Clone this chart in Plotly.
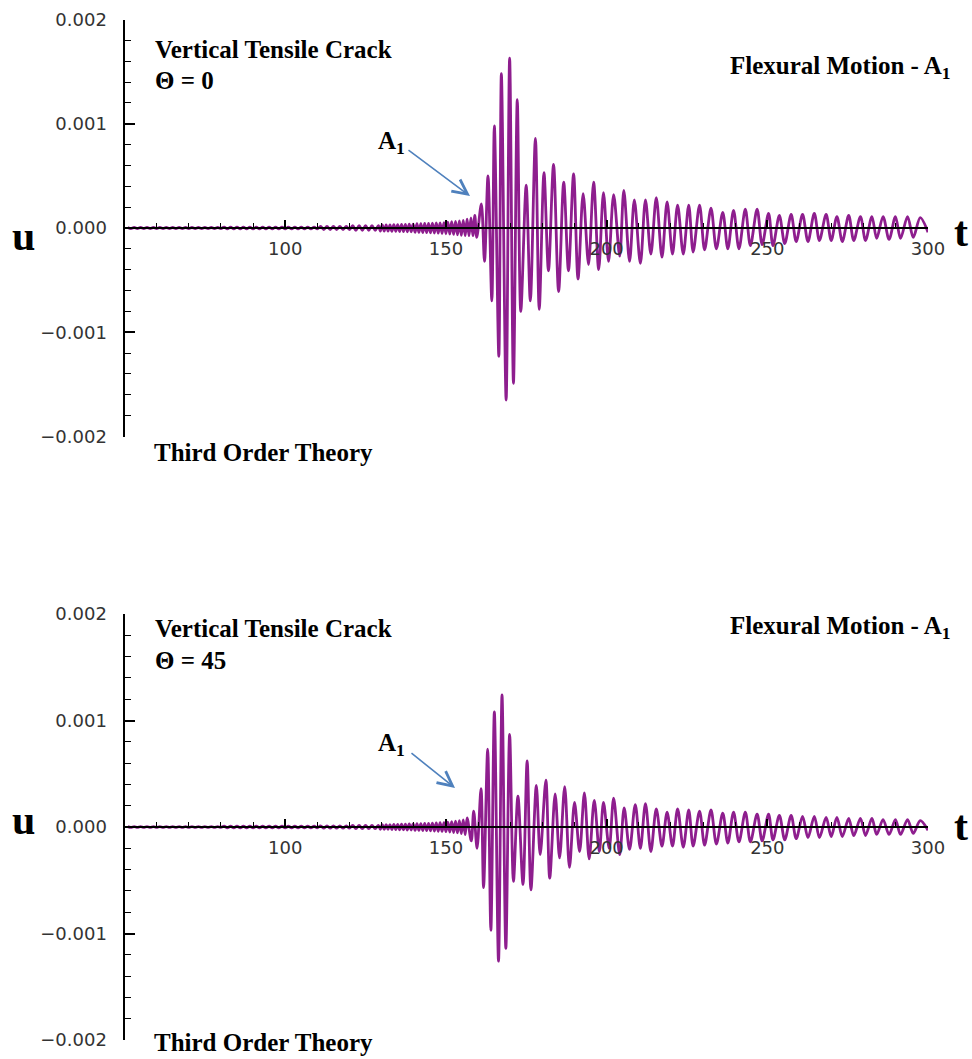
import plotly.graph_objects as go

# ---------------- data (u values are in micro-units, 1e-6) ----------------
U = 1e-6

# slowly growing precursor (read as envelope of the fine oscillation)
t_pre_a = [51, 52, 53, 54, 55, 56, 57, 58, 59, 60, 61, 62, 63, 64, 65, 66, 67, 68, 69, 70,
           71, 72, 73, 74, 75, 76, 77, 78, 79, 80, 81, 82, 83, 84, 85, 86, 87, 88, 89, 90,
           91, 92, 93, 94, 95, 96, 97, 98, 99, 100, 101, 102, 103, 104, 105, 106, 107, 108, 109, 110,
           111, 112, 113, 114, 115, 116, 117, 118, 119, 120, 121, 122, 123, 124, 125, 126, 127, 128, 129]
t_pre_b = [129.6, 130.2, 130.8, 131.4, 132.0, 132.6, 133.2, 133.8, 134.4, 135.0, 135.6, 136.2,
           136.8, 137.4, 138.0, 138.6, 139.2, 139.8, 140.4, 141.0, 141.6, 142.2, 142.8, 143.4,
           144.0, 144.6, 145.2, 145.8, 146.4, 147.0, 147.6, 148.2, 148.8, 149.4, 150.0, 150.6,
           151.2, 151.8, 152.4, 153.0, 153.6, 154.2, 154.8, 155.4, 156.0, 156.6, 157.2, 157.8,
           158.4, 159.0, 159.6]

u_top_pre_a = [5, -5, 5, -5, 5, -5, 5, -5, 5, -5, 5, -5, 5, -5, 5, -5, 5, -5, 5, -5,
               5, -5, 5, -5, 5, -5, 5, -5, 5, -5, 9, -9, 9, -9, 9, -9, 9, -9, 9, -9,
               9, -9, 9, -9, 9, -9, 9, -9, 9, -9, 9, -9, 9, -9, 9, -9, 9, -9, 9, -9,
               15, -15, 15, -15, 15, -15, 15, -15, 15, -15, 22, -22, 22, -22, 22, -22, 22, -22, 22]
u_top_pre_b = [-30, 30, -30, 30, -30, 30, -32, 32, -32, 32, -34, 34, -34, 34, -36, 36, -36, 36,
               -42, 42, -42, 42, -44, 44, -44, 44, -46, 46, -48, 48, -50, 50, -52, 52,
               -55, 56, -58, 60, -62, 64, -66, 68, -70, 72, -72, 84, -74, 98, -74, 120, -90]

u_bot_pre_a = [4, -4, 4, -4, 4, -4, 4, -4, 4, -4, 4, -4, 4, -4, 4, -4, 4, -4, 4, -4,
               4, -4, 4, -4, 4, -4, 4, -4, 4, -4, 7, -7, 7, -7, 7, -7, 7, -7, 7, -7,
               7, -7, 7, -7, 7, -7, 7, -7, 7, -7, 7, -7, 7, -7, 7, -7, 7, -7, 7, -7,
               11, -11, 11, -11, 11, -11, 11, -11, 11, -11, 16, -16, 16, -16, 16, -16, 16, -16, 16]
u_bot_pre_b = [-22, 22, -22, 22, -22, 22, -24, 24, -24, 24, -26, 26, -26, 26, -28, 28, -28, 28,
               -32, 32, -32, 32, -34, 34, -34, 34, -36, 36, -38, 38, -40, 40, -42, 42,
               -44, 46, -48, 50, -52, 54, -56, 60, -62, 66, -72, 85]

# Theta = 0 : maxima and minima of the A1 wave train
t_top_max = [161.03, 163.1, 165.08, 167.26, 169.83, 172.21, 174.98, 177.85, 180.52, 183.49,
             186.66, 189.73, 192.7, 195.96, 199.03, 202.19, 205.36, 208.63, 212.09, 215.46,
             218.82, 222.09, 225.55, 228.92, 232.48, 236.14, 239.5, 243.16, 246.83, 250.39,
             253.75, 257.41, 260.97, 264.63, 268.3, 271.66, 275.32, 278.98, 282.55, 286.01,
             289.87, 293.63, 297.59]
u_top_max = [230, 500, 980, 1480, 1630, 1230, 410, 860, 530, 610,
             440, 520, 330, 440, 340, 320, 360, 270, 270, 290,
             250, 220, 220, 220, 190, 150, 170, 180, 180, 140,
             120, 130, 130, 140, 130, 110, 120, 110, 110, 110,
             110, 110, 100]
t_top_min = [162.01, 164.29, 166.47, 168.74, 171.02, 173.3, 176.27, 179.04, 181.91, 185.07,
             188.14, 191.11, 194.38, 197.54, 200.61, 204.08, 207.14, 210.51, 213.77, 217.23,
             220.5, 223.86, 226.93, 230.49, 234.16, 237.72, 241.18, 244.74, 248.4, 251.77,
             255.43, 258.99, 262.65, 266.21, 269.88, 273.34, 276.9, 280.56, 284.03, 287.89,
             291.45, 295.41, 300.0]
u_top_min = [-320, -700, -1230, -1650, -1490, -800, -700, -780, -410, -610,
             -410, -490, -350, -400, -320, -270, -320, -340, -250, -280,
             -250, -250, -230, -210, -200, -200, -200, -170, -160, -170,
             -150, -130, -130, -120, -120, -130, -120, -120, -100, -110,
             -100, -90, -40]

# Theta = 45
t_bot_max = [158.65, 160.93, 163.0, 165.08, 167.46, 169.83, 172.41, 175.28, 178.14, 181.11,
             183.99, 186.96, 190.02, 193.09, 196.16, 199.03, 202.19, 205.46, 208.92, 212.09,
             215.46, 218.82, 222.09, 225.55, 228.92, 232.48, 236.14, 239.5, 243.16, 246.83,
             250.39, 253.75, 257.41, 260.97, 264.63, 268.3, 271.66, 275.32, 278.98, 282.55,
             286.01, 289.87, 293.63, 297.59]
u_bot_max = [150, 360, 730, 1080, 1240, 870, 290, 620, 390, 440,
             310, 380, 230, 320, 250, 230, 270, 180, 210, 220,
             170, 140, 170, 160, 150, 160, 130, 140, 140, 120,
             120, 110, 110, 100, 100, 90, 90, 80, 80, 80,
             70, 70, 70, 60]
t_bot_min = [157.9, 159.7, 161.72, 163.99, 166.37, 168.65, 171.02, 173.99, 176.46, 179.33,
             182.3, 185.37, 188.44, 191.6, 194.57, 197.74, 200.81, 204.08, 207.14, 210.51,
             213.77, 217.23, 220.5, 223.86, 226.93, 230.49, 234.16, 237.72, 241.18, 244.74,
             248.4, 251.77, 255.43, 258.99, 262.65, 266.21, 269.88, 273.34, 276.9, 280.56,
             284.03, 287.89, 291.45, 295.41, 300.0]
u_bot_min = [-130, -200, -570, -970, -1260, -1140, -510, -540, -590, -260,
             -480, -290, -380, -230, -300, -230, -200, -260, -210, -200,
             -230, -180, -180, -190, -180, -170, -160, -150, -140, -140,
             -130, -120, -120, -110, -100, -100, -90, -90, -80, -80,
             -70, -70, -70, -60, -30]

x_tickvals = [100, 150, 200, 250, 300]
y_tickvals = [-0.002, -0.001, 0.0, 0.001, 0.002]
y_ticktext = ["\u22120.002", "\u22120.001", "0.000", "0.001", "0.002"]


def merge(*pairs):
    pts = []
    for ts, us in pairs:
        pts += list(zip(ts, us))
    pts.sort()
    return [p[0] for p in pts], [p[1] * U for p in pts]


t_top, u_top = merge((t_pre_a, u_top_pre_a), (t_pre_b, u_top_pre_b),
                     (t_top_max, u_top_max), (t_top_min, u_top_min))
t_bot, u_bot = merge((t_pre_a, u_bot_pre_a), (t_pre_b[:len(u_bot_pre_b)], u_bot_pre_b),
                     (t_bot_max, u_bot_max), (t_bot_min, u_bot_min))

# ---------------- figure ----------------
W, H = 972, 1059
PURPLE = "rgb(142,30,142)"


def fy(y):
    return 1 - y / H


fig = go.Figure()
fig.add_trace(go.Scatter(x=t_top, y=u_top, mode="lines", xaxis="x", yaxis="y",
                         line=dict(color=PURPLE, width=2.8, shape="spline", smoothing=0.9),
                         hoverinfo="skip", showlegend=False))
fig.add_trace(go.Scatter(x=t_bot, y=u_bot, mode="lines", xaxis="x2", yaxis="y2",
                         line=dict(color=PURPLE, width=2.8, shape="spline", smoothing=0.9),
                         hoverinfo="skip", showlegend=False))

xdom = [124.5 / W, 928.0 / W]
top_px = (19.5, 436.5)
bot_px = (614.0, 1040.0)

tickfont = dict(family="DejaVu Sans", size=18, color="#333333")


def xaxis_cfg(pos):
    return dict(domain=xdom, range=[50, 300], anchor="free", position=pos, automargin=False,
                showline=True, linecolor="black", linewidth=2,
                ticks="inside", ticklen=7, tickwidth=1.5, tickcolor="black",
                tickmode="array", tickvals=x_tickvals, tickfont=tickfont,
                ticklabelstandoff=4,
                minor=dict(tickmode="linear", tick0=50, dtick=10, ticks="inside",
                           ticklen=4, tickwidth=1.2, tickcolor="black"),
                showgrid=False, zeroline=False)


def yaxis_cfg(px_pair, anchor):
    return dict(domain=[fy(px_pair[1]), fy(px_pair[0])], range=[-0.002, 0.002], anchor=anchor,
                automargin=False,
                showline=True, linecolor="black", linewidth=2,
                ticks="inside", ticklen=10, tickwidth=1.5, tickcolor="black",
                tickmode="array", tickvals=y_tickvals, ticktext=y_ticktext, tickfont=tickfont,
                ticklabelstandoff=12,
                minor=dict(tickmode="linear", tick0=0, dtick=0.0002, ticks="inside",
                           ticklen=6, tickwidth=1.2, tickcolor="black"),
                showgrid=False, zeroline=False)


fig.update_layout(
    width=W, height=H, margin=dict(l=0, r=0, t=0, b=0, autoexpand=False),
    paper_bgcolor="white", plot_bgcolor="white", showlegend=False,
    xaxis=xaxis_cfg(fy(sum(top_px) / 2)),
    yaxis=yaxis_cfg(top_px, "x"),
    xaxis2=xaxis_cfg(fy(sum(bot_px) / 2)),
    yaxis2=yaxis_cfg(bot_px, "x2"),
)

SERIF = "Liberation Serif"


def txt(s, x, y, size=25, xanchor="left"):
    fig.add_annotation(text="<b>" + s + "</b>", x=x / W, y=fy(y), xref="paper", yref="paper",
                       xanchor=xanchor, yanchor="middle", showarrow=False,
                       font=dict(family=SERIF, size=size, color="black"))


def arrow(x0, y0, x1, y1):
    fig.add_annotation(text="", x=x1 / W, y=fy(y1), xref="paper", yref="paper",
                       ax=x0 - x1, ay=y0 - y1, axref="pixel", ayref="pixel",
                       showarrow=True, arrowhead=5, arrowsize=1.8, arrowwidth=1.6,
                       arrowcolor="#4F81BD", standoff=0, startstandoff=0)


# top panel texts
txt("Vertical Tensile Crack", 153, 49)
txt("\u0398 = 0", 153, 80)
txt("Flexural Motion - A<sub>1</sub>", 728, 68)
txt("Third Order Theory", 152, 452)
txt("A<sub>1</sub>", 376, 143)
arrow(407, 149, 470, 196)
txt("u", 10, 236, size=42)
txt("t", 952, 232, size=42)

# bottom panel texts
txt("Vertical Tensile Crack", 153, 628)
txt("\u0398 = 45", 153, 660)
txt("Flexural Motion - A<sub>1</sub>", 728, 627)
txt("Third Order Theory", 152, 1042)
txt("A<sub>1</sub>", 376, 744)
arrow(410, 752, 455, 788)
txt("u", 10, 820, size=42)
txt("t", 952, 826, size=42)

fig.write_html("out.html")
